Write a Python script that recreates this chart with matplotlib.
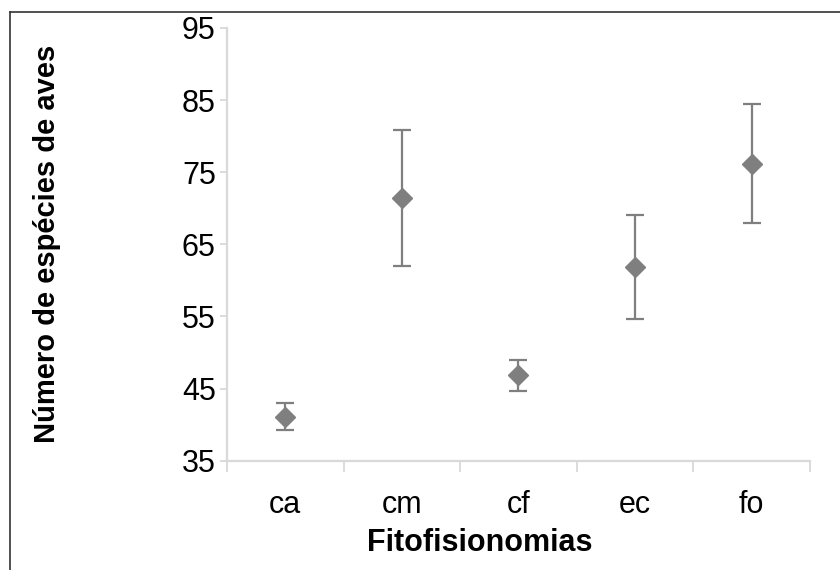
import matplotlib.pyplot as plt
from matplotlib.ticker import FixedLocator

plt.rcParams['font.family'] = ['Liberation Sans', 'DejaVu Sans']

# dados
categorias = ['ca', 'cm', 'cf', 'ec', 'fo']
medias = [41.1, 71.4, 46.9, 61.9, 76.2]
erro_sup = [43.0, 80.8, 48.9, 69.1, 84.4]
erro_inf = [39.3, 62.0, 44.7, 54.6, 68.0]
yticks = [35, 45, 55, 65, 75, 85, 95]

cinza = '#7f7f7f'
eixo = '#d9d9d9'

fig = plt.figure(figsize=(8.4, 5.7), dpi=100)
ax = fig.add_axes([0.2702, 0.1918, 0.6941, 0.7591])

x = list(range(len(categorias)))
yerr = [[m - lo for m, lo in zip(medias, erro_inf)],
        [hi - m for m, hi in zip(medias, erro_sup)]]
ax.errorbar(x, medias, yerr=yerr, fmt='D', color=cinza, ecolor=cinza,
            markersize=10, elinewidth=1.6, capsize=6.5, capthick=1.6)

ax.set_xlim(-0.5, len(categorias) - 0.5)
ax.set_ylim(35, 95)
ax.set_yticks(yticks)
ax.set_xticks(x)
ax.set_xticklabels(categorias)
ax.xaxis.set_minor_locator(FixedLocator([i + 0.5 for i in range(-1, len(categorias))]))

for lado in ['top', 'right']:
    ax.spines[lado].set_visible(False)
for lado in ['left', 'bottom']:
    ax.spines[lado].set_color(eixo)
    ax.spines[lado].set_linewidth(1.6)

ax.tick_params(axis='x', which='major', length=0, pad=21, labelsize=22, colors='black')
ax.tick_params(axis='x', which='minor', length=8, width=1.3, color=eixo)
ax.tick_params(axis='y', length=5, width=1.3, color=eixo, pad=3, labelsize=22)

ax.set_xlabel('Fitofisionomias', fontsize=22, fontweight='bold', va='center')
ax.set_ylabel('Número de espécies de aves', fontsize=21, fontweight='bold', va='center')
ax.xaxis.set_label_coords(0.434, -0.19)
ax.yaxis.set_label_coords(-0.309, 0.5)

# moldura da figura
fig.add_artist(plt.Line2D([10 / 840, 10 / 840], [0, 1 - 12 / 570], color='#333333', lw=1.2))
fig.add_artist(plt.Line2D([10 / 840, 1], [1 - 12 / 570, 1 - 12 / 570], color='#333333', lw=1.2))

fig.savefig('out.png', dpi=100)
